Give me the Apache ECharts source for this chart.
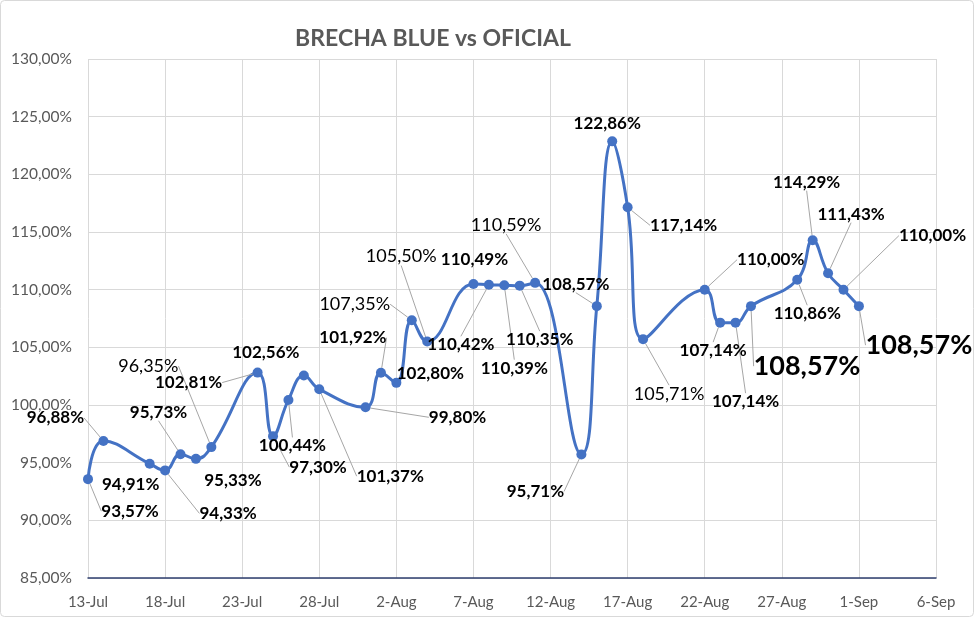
<!DOCTYPE html>
<html><head><meta charset="utf-8">
<script src="https://cdn.jsdelivr.net/npm/echarts@6/dist/echarts.min.js"></script>
<style>html,body{margin:0;padding:0;background:#fff}#c{width:980px;height:622px}</style>
</head><body><div id="c"></div>
<script>
const dates = ['2023-07-13','2023-07-14','2023-07-17','2023-07-18','2023-07-19','2023-07-20','2023-07-21',
  '2023-07-24','2023-07-25','2023-07-26','2023-07-27','2023-07-28','2023-07-31',
  '2023-08-01','2023-08-02','2023-08-03','2023-08-04','2023-08-07','2023-08-08','2023-08-09','2023-08-10','2023-08-11',
  '2023-08-14','2023-08-15','2023-08-16','2023-08-17','2023-08-18',
  '2023-08-22','2023-08-23','2023-08-24','2023-08-25','2023-08-28','2023-08-29','2023-08-30','2023-08-31','2023-09-01'];
const values = [93.57,96.88,94.91,94.33,95.73,95.33,96.35,
  102.81,97.30,100.44,102.56,101.37,99.80,
  102.80,101.92,107.35,105.50,110.49,110.42,110.39,110.35,110.59,
  95.71,108.57,122.86,117.14,105.71,
  110.00,107.14,107.14,108.57,110.86,114.29,111.43,110.00,108.57];
const labelTexts = ['93,57%','96,88%','94,91%','94,33%','95,73%','95,33%','96,35%',
  '102,81%','97,30%','100,44%','102,56%','101,37%','99,80%',
  '101,92%','102,80%','107,35%','105,50%','110,49%','110,42%','110,39%','110,35%','110,59%',
  '95,71%','108,57%','122,86%','117,14%','105,71%',
  '110,00%','107,14%','107,14%','108,57%','110,86%','114,29%','111,43%','110,00%','108,57%'];
const xTickLabels = ['13-Jul','18-Jul','23-Jul','28-Jul','2-Aug','7-Aug','12-Aug','17-Aug','22-Aug','27-Aug','1-Sep','6-Sep'];
const startDate = '2023-07-13';
const yMin = 85, yMax = 130, yStep = 5;

// label layout (offset of label centre from point, px), style kind, leader flag
const labelOffsets = [[42,32],[-48,-23],[-19,21],[63,43],[-22,-42],[37,22],[-63,-81],
  [-69,10],[45,31],[4,46],[-38,-23],[71,87],[92,10],
  [-28,-35],[34,-9],[-57,-16],[-26,-85],[1,-24],[-28,60],[10,83],[20,54],[-29,-58],
  [-46,37],[-21,-22],[-5,-18],[56,18],[26,55],
  [66,-30],[-7,28],[10,79],[56,60],[10,34],[-6,-58],[23,-59],[89,-54],[60,39]];
const labelKind = ['b','b','b','b','b','b','r','b','b','b','b','b','b','b','b','r','r','b','b','b','b','r',
  'b','b','b','b','r','b','b','b','B','b','b','b','b','B'];
const noLeader = [2,5,10,14,17,24];

const dayMs = 86400000;
function dayIndex(s){const p=s.split('-').map(Number);const q=startDate.split('-').map(Number);
  return (Date.UTC(p[0],p[1]-1,p[2])-Date.UTC(q[0],q[1]-1,q[2]))/dayMs;}
const kindStyle = {b:{fontSize:17,fontWeight:'bold'}, r:{fontSize:18,fontWeight:'normal'}, B:{fontSize:27,fontWeight:'bold'}};
const data = dates.map((d,i)=>({
  value:[dayIndex(d), values[i]],
  label:{formatter:labelTexts[i], ...kindStyle[labelKind[i]]},
  labelLine:{show: noLeader.indexOf(i)<0}
}));

const chart = echarts.init(document.getElementById('c'));
chart.setOption({
  animation:false,
  backgroundColor:'#fff',
  title:{text:'BRECHA BLUE vs OFICIAL', left:428, top:22, textAlign:'center',
    textStyle:{fontFamily:'Lato', fontSize:23, fontWeight:'bold', color:'#595959'}},
  graphic:[{type:'rect', shape:{x:0.5,y:0.5,width:973,height:616,r:4}, style:{fill:'none',stroke:'#d9d9d9',lineWidth:1}, silent:true}],
  grid:{left:88, right:44, top:59, bottom:44},
  xAxis:{type:'value', min:0, max:55, interval:5,
    axisLine:{show:true, lineStyle:{color:'#2f3f6f', width:1.5}},
    axisTick:{show:false},
    splitLine:{show:true, lineStyle:{color:'#d9d9d9', width:1}},
    axisLabel:{formatter:v=>xTickLabels[Math.round(v/5)], color:'#595959', fontFamily:'Lato', fontSize:15, margin:17}},
  yAxis:{type:'value', min:yMin, max:yMax, interval:yStep,
    axisLine:{show:false}, axisTick:{show:false},
    splitLine:{lineStyle:{color:'#d9d9d9', width:1}},
    axisLabel:{formatter:v=>v.toFixed(2).replace('.',',')+'%', color:'#595959', fontFamily:'Lato', fontSize:15.5, margin:16}},
  series:[{
    type:'line', data:data, smooth:0.45,
    symbol:'circle', symbolSize:10,
    lineStyle:{color:'#4472C4', width:3},
    itemStyle:{color:'#4472C4'},
    label:{show:true, color:'#000', fontFamily:'Lato'},
    labelLine:{show:true, lineStyle:{color:'#a6a6a6', width:1}},
    labelLayout:function(p){
      const o = labelOffsets[p.dataIndex];
      const cx = p.rect.x + p.rect.width/2, cy = p.rect.y + p.rect.height/2;
      return {x: cx+o[0], y: cy+o[1], align:'center', verticalAlign:'middle'};
    }
  }]
});
</script></body></html>
